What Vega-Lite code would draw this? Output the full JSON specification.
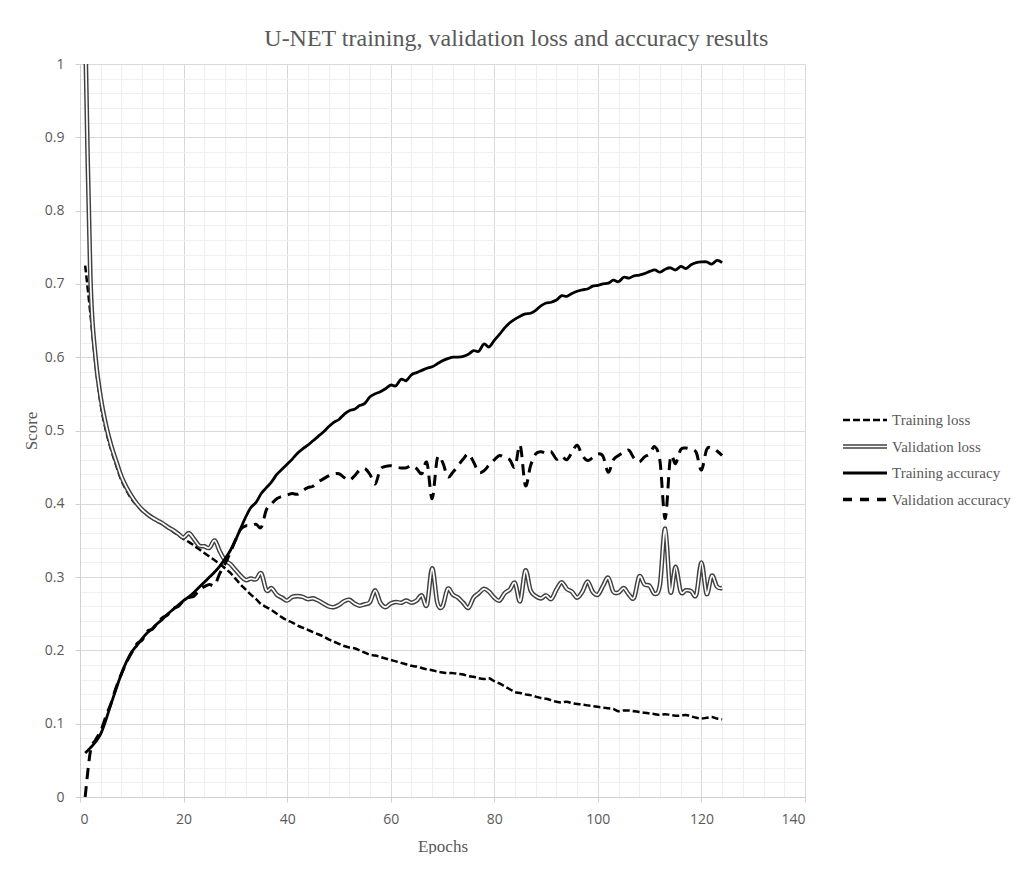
{
"$schema":"https://vega.github.io/schema/vega-lite/v6.json",
"background":"white",
"padding":{"left":22,"top":27,"right":0,"bottom":0},
"title":{"text":"U-NET training, validation loss and accuracy results","font":"Liberation Serif","fontSize":24,"fontWeight":"normal","color":"#595959","offset":6,"anchor":"middle"},
"config":{"view":{"stroke":null},"font":"Liberation Serif"},
"datasets":{
"tl":[{"e":1,"v":0.725},{"e":2,"v":0.66},{"e":3,"v":0.59},{"e":4,"v":0.535},{"e":5,"v":0.5},{"e":6,"v":0.474},{"e":7,"v":0.452},{"e":8,"v":0.432},{"e":9,"v":0.418},{"e":10,"v":0.406},{"e":11,"v":0.398},{"e":12,"v":0.39},{"e":13,"v":0.385},{"e":14,"v":0.38},{"e":15,"v":0.376},{"e":16,"v":0.372},{"e":17,"v":0.367},{"e":18,"v":0.362},{"e":19,"v":0.357},{"e":20,"v":0.352},{"e":21,"v":0.348},{"e":22,"v":0.343},{"e":23,"v":0.338},{"e":24,"v":0.333},{"e":25,"v":0.328},{"e":26,"v":0.323},{"e":27,"v":0.318},{"e":28,"v":0.312},{"e":29,"v":0.306},{"e":30,"v":0.298},{"e":31,"v":0.29},{"e":32,"v":0.283},{"e":33,"v":0.276},{"e":34,"v":0.27},{"e":35,"v":0.263},{"e":36,"v":0.259},{"e":37,"v":0.255},{"e":38,"v":0.25},{"e":39,"v":0.245},{"e":40,"v":0.241},{"e":41,"v":0.238},{"e":42,"v":0.234},{"e":43,"v":0.231},{"e":44,"v":0.228},{"e":45,"v":0.225},{"e":46,"v":0.222},{"e":47,"v":0.219},{"e":48,"v":0.215},{"e":49,"v":0.212},{"e":50,"v":0.209},{"e":51,"v":0.206},{"e":52,"v":0.204},{"e":53,"v":0.203},{"e":54,"v":0.2},{"e":55,"v":0.197},{"e":56,"v":0.194},{"e":57,"v":0.193},{"e":58,"v":0.191},{"e":59,"v":0.189},{"e":60,"v":0.187},{"e":61,"v":0.185},{"e":62,"v":0.183},{"e":63,"v":0.181},{"e":64,"v":0.179},{"e":65,"v":0.178},{"e":66,"v":0.176},{"e":67,"v":0.174},{"e":68,"v":0.173},{"e":69,"v":0.171},{"e":70,"v":0.17},{"e":71,"v":0.169},{"e":72,"v":0.169},{"e":73,"v":0.168},{"e":74,"v":0.167},{"e":75,"v":0.165},{"e":76,"v":0.164},{"e":77,"v":0.162},{"e":78,"v":0.161},{"e":79,"v":0.162},{"e":80,"v":0.158},{"e":81,"v":0.155},{"e":82,"v":0.151},{"e":83,"v":0.147},{"e":84,"v":0.143},{"e":85,"v":0.142},{"e":86,"v":0.14},{"e":87,"v":0.139},{"e":88,"v":0.137},{"e":89,"v":0.135},{"e":90,"v":0.134},{"e":91,"v":0.132},{"e":92,"v":0.13},{"e":93,"v":0.129},{"e":94,"v":0.13},{"e":95,"v":0.128},{"e":96,"v":0.127},{"e":97,"v":0.126},{"e":98,"v":0.125},{"e":99,"v":0.124},{"e":100,"v":0.123},{"e":101,"v":0.122},{"e":102,"v":0.121},{"e":103,"v":0.12},{"e":104,"v":0.117},{"e":105,"v":0.118},{"e":106,"v":0.118},{"e":107,"v":0.117},{"e":108,"v":0.116},{"e":109,"v":0.115},{"e":110,"v":0.114},{"e":111,"v":0.113},{"e":112,"v":0.112},{"e":113,"v":0.113},{"e":114,"v":0.112},{"e":115,"v":0.111},{"e":116,"v":0.111},{"e":117,"v":0.112},{"e":118,"v":0.11},{"e":119,"v":0.108},{"e":120,"v":0.107},{"e":121,"v":0.108},{"e":122,"v":0.109},{"e":123,"v":0.107},{"e":124,"v":0.106}],
"vl":[{"e":1,"v":1.05},{"e":2,"v":0.71},{"e":3,"v":0.6},{"e":4,"v":0.545},{"e":5,"v":0.508},{"e":6,"v":0.48},{"e":7,"v":0.458},{"e":8,"v":0.437},{"e":9,"v":0.422},{"e":10,"v":0.41},{"e":11,"v":0.4},{"e":12,"v":0.392},{"e":13,"v":0.386},{"e":14,"v":0.381},{"e":15,"v":0.377},{"e":16,"v":0.373},{"e":17,"v":0.368},{"e":18,"v":0.364},{"e":19,"v":0.359},{"e":20,"v":0.354},{"e":21,"v":0.36},{"e":22,"v":0.352},{"e":23,"v":0.343},{"e":24,"v":0.342},{"e":25,"v":0.34},{"e":26,"v":0.35},{"e":27,"v":0.335},{"e":28,"v":0.323},{"e":29,"v":0.318},{"e":30,"v":0.31},{"e":31,"v":0.302},{"e":32,"v":0.296},{"e":33,"v":0.298},{"e":34,"v":0.297},{"e":35,"v":0.305},{"e":36,"v":0.282},{"e":37,"v":0.285},{"e":38,"v":0.276},{"e":39,"v":0.272},{"e":40,"v":0.268},{"e":41,"v":0.273},{"e":42,"v":0.274},{"e":43,"v":0.273},{"e":44,"v":0.27},{"e":45,"v":0.271},{"e":46,"v":0.268},{"e":47,"v":0.264},{"e":48,"v":0.26},{"e":49,"v":0.259},{"e":50,"v":0.262},{"e":51,"v":0.267},{"e":52,"v":0.269},{"e":53,"v":0.264},{"e":54,"v":0.261},{"e":55,"v":0.263},{"e":56,"v":0.266},{"e":57,"v":0.282},{"e":58,"v":0.265},{"e":59,"v":0.259},{"e":60,"v":0.264},{"e":61,"v":0.266},{"e":62,"v":0.265},{"e":63,"v":0.268},{"e":64,"v":0.265},{"e":65,"v":0.268},{"e":66,"v":0.275},{"e":67,"v":0.262},{"e":68,"v":0.312},{"e":69,"v":0.265},{"e":70,"v":0.26},{"e":71,"v":0.284},{"e":72,"v":0.276},{"e":73,"v":0.272},{"e":74,"v":0.265},{"e":75,"v":0.258},{"e":76,"v":0.272},{"e":77,"v":0.278},{"e":78,"v":0.284},{"e":79,"v":0.28},{"e":80,"v":0.272},{"e":81,"v":0.268},{"e":82,"v":0.278},{"e":83,"v":0.283},{"e":84,"v":0.292},{"e":85,"v":0.267},{"e":86,"v":0.309},{"e":87,"v":0.282},{"e":88,"v":0.274},{"e":89,"v":0.271},{"e":90,"v":0.275},{"e":91,"v":0.27},{"e":92,"v":0.283},{"e":93,"v":0.293},{"e":94,"v":0.284},{"e":95,"v":0.28},{"e":96,"v":0.272},{"e":97,"v":0.28},{"e":98,"v":0.294},{"e":99,"v":0.28},{"e":100,"v":0.276},{"e":101,"v":0.288},{"e":102,"v":0.299},{"e":103,"v":0.28},{"e":104,"v":0.279},{"e":105,"v":0.285},{"e":106,"v":0.276},{"e":107,"v":0.272},{"e":108,"v":0.301},{"e":109,"v":0.29},{"e":110,"v":0.288},{"e":111,"v":0.277},{"e":112,"v":0.29},{"e":113,"v":0.366},{"e":114,"v":0.28},{"e":115,"v":0.314},{"e":116,"v":0.28},{"e":117,"v":0.282},{"e":118,"v":0.281},{"e":119,"v":0.276},{"e":120,"v":0.32},{"e":121,"v":0.277},{"e":122,"v":0.302},{"e":123,"v":0.287},{"e":124,"v":0.285}],
"ta":[{"e":1,"v":0.06},{"e":2,"v":0.067},{"e":3,"v":0.075},{"e":4,"v":0.086},{"e":5,"v":0.105},{"e":6,"v":0.127},{"e":7,"v":0.148},{"e":8,"v":0.168},{"e":9,"v":0.185},{"e":10,"v":0.198},{"e":11,"v":0.207},{"e":12,"v":0.216},{"e":13,"v":0.224},{"e":14,"v":0.23},{"e":15,"v":0.237},{"e":16,"v":0.243},{"e":17,"v":0.25},{"e":18,"v":0.256},{"e":19,"v":0.262},{"e":20,"v":0.268},{"e":21,"v":0.273},{"e":22,"v":0.279},{"e":23,"v":0.286},{"e":24,"v":0.293},{"e":25,"v":0.3},{"e":26,"v":0.307},{"e":27,"v":0.315},{"e":28,"v":0.325},{"e":29,"v":0.336},{"e":30,"v":0.35},{"e":31,"v":0.366},{"e":32,"v":0.382},{"e":33,"v":0.395},{"e":34,"v":0.402},{"e":35,"v":0.414},{"e":36,"v":0.422},{"e":37,"v":0.43},{"e":38,"v":0.44},{"e":39,"v":0.447},{"e":40,"v":0.454},{"e":41,"v":0.461},{"e":42,"v":0.469},{"e":43,"v":0.475},{"e":44,"v":0.48},{"e":45,"v":0.486},{"e":46,"v":0.492},{"e":47,"v":0.498},{"e":48,"v":0.505},{"e":49,"v":0.511},{"e":50,"v":0.515},{"e":51,"v":0.522},{"e":52,"v":0.527},{"e":53,"v":0.529},{"e":54,"v":0.534},{"e":55,"v":0.537},{"e":56,"v":0.546},{"e":57,"v":0.55},{"e":58,"v":0.553},{"e":59,"v":0.557},{"e":60,"v":0.562},{"e":61,"v":0.561},{"e":62,"v":0.57},{"e":63,"v":0.568},{"e":64,"v":0.576},{"e":65,"v":0.579},{"e":66,"v":0.582},{"e":67,"v":0.585},{"e":68,"v":0.587},{"e":69,"v":0.591},{"e":70,"v":0.595},{"e":71,"v":0.598},{"e":72,"v":0.6},{"e":73,"v":0.6},{"e":74,"v":0.601},{"e":75,"v":0.604},{"e":76,"v":0.609},{"e":77,"v":0.608},{"e":78,"v":0.618},{"e":79,"v":0.614},{"e":80,"v":0.623},{"e":81,"v":0.631},{"e":82,"v":0.64},{"e":83,"v":0.647},{"e":84,"v":0.652},{"e":85,"v":0.656},{"e":86,"v":0.659},{"e":87,"v":0.66},{"e":88,"v":0.664},{"e":89,"v":0.67},{"e":90,"v":0.674},{"e":91,"v":0.675},{"e":92,"v":0.678},{"e":93,"v":0.684},{"e":94,"v":0.683},{"e":95,"v":0.687},{"e":96,"v":0.69},{"e":97,"v":0.692},{"e":98,"v":0.693},{"e":99,"v":0.697},{"e":100,"v":0.698},{"e":101,"v":0.7},{"e":102,"v":0.701},{"e":103,"v":0.705},{"e":104,"v":0.703},{"e":105,"v":0.709},{"e":106,"v":0.708},{"e":107,"v":0.711},{"e":108,"v":0.712},{"e":109,"v":0.714},{"e":110,"v":0.717},{"e":111,"v":0.719},{"e":112,"v":0.716},{"e":113,"v":0.72},{"e":114,"v":0.722},{"e":115,"v":0.719},{"e":116,"v":0.724},{"e":117,"v":0.721},{"e":118,"v":0.726},{"e":119,"v":0.729},{"e":120,"v":0.73},{"e":121,"v":0.73},{"e":122,"v":0.727},{"e":123,"v":0.732},{"e":124,"v":0.729}],
"va":[{"e":1,"v":0},{"e":2,"v":0.062},{"e":3,"v":0.078},{"e":4,"v":0.09},{"e":5,"v":0.11},{"e":6,"v":0.128},{"e":7,"v":0.15},{"e":8,"v":0.168},{"e":9,"v":0.184},{"e":10,"v":0.197},{"e":11,"v":0.209},{"e":12,"v":0.214},{"e":13,"v":0.226},{"e":14,"v":0.229},{"e":15,"v":0.238},{"e":16,"v":0.245},{"e":17,"v":0.249},{"e":18,"v":0.257},{"e":19,"v":0.26},{"e":20,"v":0.268},{"e":21,"v":0.272},{"e":22,"v":0.274},{"e":23,"v":0.282},{"e":24,"v":0.287},{"e":25,"v":0.29},{"e":26,"v":0.289},{"e":27,"v":0.305},{"e":28,"v":0.318},{"e":29,"v":0.333},{"e":30,"v":0.35},{"e":31,"v":0.365},{"e":32,"v":0.37},{"e":33,"v":0.37},{"e":34,"v":0.372},{"e":35,"v":0.368},{"e":36,"v":0.392},{"e":37,"v":0.4},{"e":38,"v":0.407},{"e":39,"v":0.41},{"e":40,"v":0.412},{"e":41,"v":0.414},{"e":42,"v":0.413},{"e":43,"v":0.418},{"e":44,"v":0.422},{"e":45,"v":0.424},{"e":46,"v":0.43},{"e":47,"v":0.434},{"e":48,"v":0.438},{"e":49,"v":0.441},{"e":50,"v":0.441},{"e":51,"v":0.436},{"e":52,"v":0.432},{"e":53,"v":0.438},{"e":54,"v":0.446},{"e":55,"v":0.448},{"e":56,"v":0.44},{"e":57,"v":0.427},{"e":58,"v":0.447},{"e":59,"v":0.451},{"e":60,"v":0.452},{"e":61,"v":0.45},{"e":62,"v":0.449},{"e":63,"v":0.449},{"e":64,"v":0.452},{"e":65,"v":0.448},{"e":66,"v":0.441},{"e":67,"v":0.456},{"e":68,"v":0.407},{"e":69,"v":0.462},{"e":70,"v":0.457},{"e":71,"v":0.437},{"e":72,"v":0.443},{"e":73,"v":0.452},{"e":74,"v":0.461},{"e":75,"v":0.468},{"e":76,"v":0.457},{"e":77,"v":0.443},{"e":78,"v":0.445},{"e":79,"v":0.453},{"e":80,"v":0.46},{"e":81,"v":0.466},{"e":82,"v":0.463},{"e":83,"v":0.46},{"e":84,"v":0.45},{"e":85,"v":0.48},{"e":86,"v":0.425},{"e":87,"v":0.452},{"e":88,"v":0.468},{"e":89,"v":0.471},{"e":90,"v":0.469},{"e":91,"v":0.471},{"e":92,"v":0.461},{"e":93,"v":0.465},{"e":94,"v":0.46},{"e":95,"v":0.47},{"e":96,"v":0.48},{"e":97,"v":0.466},{"e":98,"v":0.459},{"e":99,"v":0.463},{"e":100,"v":0.468},{"e":101,"v":0.465},{"e":102,"v":0.443},{"e":103,"v":0.46},{"e":104,"v":0.466},{"e":105,"v":0.47},{"e":106,"v":0.473},{"e":107,"v":0.462},{"e":108,"v":0.457},{"e":109,"v":0.464},{"e":110,"v":0.468},{"e":111,"v":0.478},{"e":112,"v":0.458},{"e":113,"v":0.38},{"e":114,"v":0.462},{"e":115,"v":0.455},{"e":116,"v":0.474},{"e":117,"v":0.476},{"e":118,"v":0.474},{"e":119,"v":0.47},{"e":120,"v":0.446},{"e":121,"v":0.474},{"e":122,"v":0.476},{"e":123,"v":0.472},{"e":124,"v":0.466}],
"leg":[{"name":"Training loss"},{"name":"Validation loss"},{"name":"Training accuracy"},{"name":"Validation accuracy"}]
},
"hconcat":[
{
"width":725,"height":733,
"encoding":{
"x":{"field":"e","type":"quantitative","scale":{"domain":[0,140],"nice":false,"zero":false},"axis":null},
"y":{"field":"v","type":"quantitative","scale":{"domain":[0,1],"nice":false},"axis":null}
},
"layer":[
{"data":{"name":"tl"},"mark":{"type":"line","interpolate":"cardinal","color":"#000000","strokeWidth":2.5,"strokeDash":[7,3],"clip":true},
"encoding":{
"x":{"field":"e","type":"quantitative","axis":{"orient":"bottom","values":[0,4,8,12,16,20,24,28,32,36,40,44,48,52,56,60,64,68,72,76,80,84,88,92,96,100,104,108,112,116,120,124,128,132,136,140],"grid":true,"gridColor":"#efefef","domain":false,"ticks":false,"labels":false,"title":null,"minExtent":0,"maxExtent":0}},
"y":{"field":"v","type":"quantitative","axis":{"orient":"left","values":[0,0.02,0.04,0.06,0.08,0.1,0.12,0.14,0.16,0.18,0.2,0.22,0.24,0.26,0.28,0.3,0.32,0.34,0.36,0.38,0.4,0.42,0.44,0.46,0.48,0.5,0.52,0.54,0.56,0.58,0.6,0.62,0.64,0.66,0.68,0.7,0.72,0.74,0.76,0.78,0.8,0.82,0.84,0.86,0.88,0.9,0.92,0.94,0.96,0.98,1],"grid":true,"gridColor":"#efefef","domain":false,"ticks":false,"labels":false,"title":null,"minExtent":0,"maxExtent":0}}
}},
{"data":{"name":"vl"},"mark":{"type":"line","interpolate":"cardinal","color":"#404040","strokeWidth":4.6,"clip":true},
"encoding":{
"x":{"field":"e","type":"quantitative","axis":{"orient":"bottom","values":[0,20,40,60,80,100,120,140],"grid":true,"gridColor":"#d9d9d9","domainColor":"#d0d0d0","tickColor":"#d0d0d0","tickSize":5,"labelPadding":10,"labelFont":"Open Sans","labelFontSize":14,"labelColor":"#595959","title":"Epochs","titleFont":"Liberation Serif","titleFontSize":17,"titleFontWeight":"normal","titleColor":"#595959","titlePadding":12}},
"y":{"field":"v","type":"quantitative","axis":{"orient":"left","values":[0,0.1,0.2,0.3,0.4,0.5,0.6,0.7,0.8,0.9,1],"format":"~g","grid":true,"gridColor":"#d9d9d9","domainColor":"#d0d0d0","tickColor":"#d0d0d0","tickSize":5,"labelPadding":11,"labelFont":"Open Sans","labelFontSize":14,"labelColor":"#595959","minExtent":37,"maxExtent":37,"title":"Score","titleFont":"Liberation Serif","titleFontSize":17,"titleFontWeight":"normal","titleColor":"#595959","titlePadding":3}}
}},
{"data":{"name":"vl"},"mark":{"type":"line","interpolate":"cardinal","color":"#ffffff","strokeWidth":1.7,"clip":true}},
{"data":{"name":"ta"},"mark":{"type":"line","interpolate":"cardinal","color":"#000000","strokeWidth":2.8,"clip":true}},
{"data":{"name":"va"},"mark":{"type":"line","interpolate":"cardinal","color":"#000000","strokeWidth":3,"strokeDash":[11,7],"clip":true}}
],
"resolve":{"axis":{"x":"independent","y":"independent"}}
},
{
"width":44,"height":733,
"data":{"name":"leg"},
"encoding":{
"y":{"field":"name","type":"nominal","scale":{"type":"point","domain":["Training loss","Validation loss","Training accuracy","Validation accuracy"],"range":[356,435.5],"padding":0},"axis":null}
},
"layer":[
{"transform":[{"filter":"datum.name === 'Training loss'"}],"mark":{"type":"rule","color":"#000000","strokeWidth":2.5,"strokeDash":[7,3]},
"encoding":{"x":{"datum":0,"type":"quantitative","scale":{"domain":[0,1]},"axis":null},"x2":{"datum":1}}},
{"transform":[{"filter":"datum.name === 'Validation loss'"}],"mark":{"type":"rule","color":"#404040","strokeWidth":4.6},
"encoding":{"x":{"datum":0,"type":"quantitative","scale":{"domain":[0,1]},"axis":null},"x2":{"datum":1}}},
{"transform":[{"filter":"datum.name === 'Validation loss'"}],"mark":{"type":"rule","color":"#ffffff","strokeWidth":1.7},
"encoding":{"x":{"datum":0,"type":"quantitative","scale":{"domain":[0,1]},"axis":null},"x2":{"datum":1}}},
{"transform":[{"filter":"datum.name === 'Training accuracy'"}],"mark":{"type":"rule","color":"#000000","strokeWidth":3},
"encoding":{"x":{"datum":0,"type":"quantitative","scale":{"domain":[0,1]},"axis":null},"x2":{"datum":1}}},
{"transform":[{"filter":"datum.name === 'Validation accuracy'"}],"mark":{"type":"rule","color":"#000000","strokeWidth":3.5,"strokeDash":[9,8]},
"encoding":{"x":{"datum":0,"type":"quantitative","scale":{"domain":[0,1]},"axis":null},"x2":{"datum":1}}},
{"mark":{"type":"text","align":"left","baseline":"middle","dx":5,"font":"Liberation Serif","fontSize":15,"color":"#595959"},
"encoding":{"x":{"datum":1,"type":"quantitative","scale":{"domain":[0,1]},"axis":null},"text":{"field":"name"}}}
]
}
],
"bounds":"flush",
"spacing":38
}
